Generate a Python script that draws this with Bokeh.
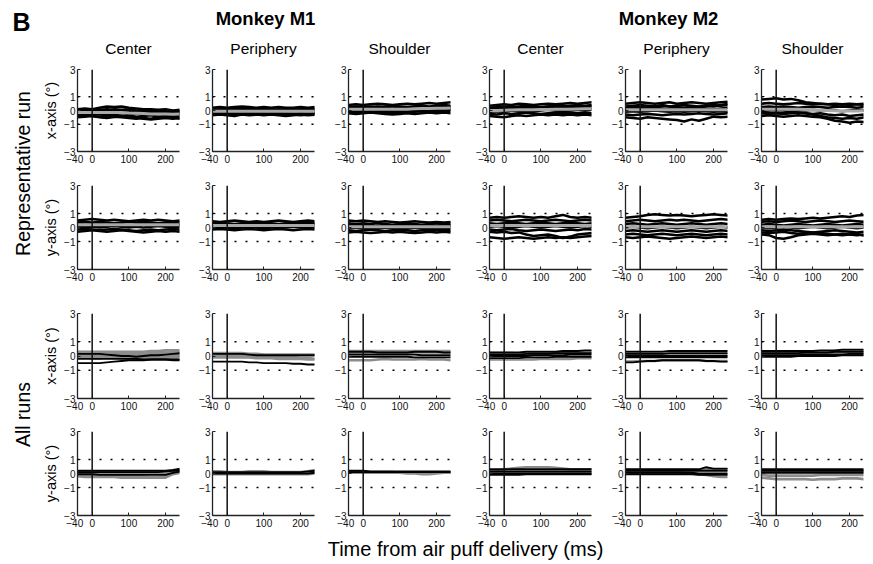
import math
from bokeh.plotting import figure
from bokeh.models import Range1d, FixedTicker, Span
from bokeh.layouts import column, row
from bokeh.embed import file_html
from bokeh.resources import INLINE
from bokeh.core.properties import value

# ---------------- data ----------------
T = [-40, -20, 0, 20, 40, 60, 80, 100, 120, 140, 160, 180, 200, 220, 240]
monkeys = ["Monkey M1", "Monkey M2"]
sites = ["Center", "Periphery", "Shoulder"]
row_groups = ["Representative run", "All runs"]
axis_names = ["x-axis (°)", "y-axis (°)", "x-axis (°)", "y-axis (°)"]
y_ticks = [-3, -1, 0, 1, 3]
y_tick_labels = ["−3", "−1", "0", "1", "3"]
x_ticks = [-40, 0, 100, 200]
x_tick_labels = ["−40\u00a0\u00a0", "0", "100", "200"]
x_label = "Time from air puff delivery (ms)"

# Representative run, x-axis: individual trials + mean
rep_x_m1_center = [
    [0.1, 0.15, 0.1, 0.2, 0.3, 0.25, 0.3, 0.2, 0.15, 0.1, 0.1, 0.05, 0.1, 0.0, 0.05],
    [-0.05, 0.0, -0.05, 0.05, 0.1, 0.05, 0.0, -0.05, -0.1, -0.05, -0.1, -0.1, -0.15, -0.1, -0.1],
    [-0.2, -0.15, -0.2, -0.1, -0.15, -0.2, -0.15, -0.25, -0.2, -0.25, -0.3, -0.25, -0.3, -0.25, -0.3],
    [-0.35, -0.3, -0.25, -0.3, -0.35, -0.3, -0.4, -0.35, -0.45, -0.4, -0.35, -0.45, -0.4, -0.45, -0.4],
    [-0.5, -0.45, -0.4, -0.45, -0.5, -0.45, -0.5, -0.55, -0.6, -0.55, -0.6, -0.5, -0.55, -0.6, -0.55],
    [0.0, -0.1, 0.05, 0.0, -0.05, 0.1, 0.05, 0.1, 0.0, -0.05, 0.0, -0.05, -0.05, -0.1, -0.05],
    [-0.3, -0.35, -0.4, -0.5, -0.55, -0.45, -0.4, -0.45, -0.5, -0.6, -0.65, -0.6, -0.55, -0.5, -0.6],
    [-0.1, -0.2, -0.15, -0.2, -0.25, -0.15, -0.2, -0.1, -0.15, -0.2, -0.15, -0.2, -0.25, -0.3, -0.2],
]
rep_x_m1_center_mean = [-0.15, -0.15, -0.15, -0.15, -0.15, -0.15, -0.15, -0.18, -0.2, -0.22, -0.25, -0.25, -0.25, -0.27, -0.25]

rep_x_m1_periphery = [
    [0.2, 0.25, 0.2, 0.25, 0.3, 0.25, 0.2, 0.25, 0.2, 0.25, 0.2, 0.2, 0.25, 0.2, 0.25],
    [0.05, 0.1, 0.05, 0.1, 0.05, 0.1, 0.15, 0.1, 0.05, 0.1, 0.05, 0.1, 0.05, 0.1, 0.05],
    [-0.1, -0.05, -0.1, -0.05, -0.1, -0.05, -0.1, -0.05, 0.0, -0.05, -0.1, -0.05, -0.1, -0.05, -0.1],
    [-0.2, -0.25, -0.2, -0.15, -0.2, -0.25, -0.2, -0.25, -0.2, -0.15, -0.2, -0.25, -0.2, -0.25, -0.2],
    [-0.35, -0.3, -0.35, -0.4, -0.3, -0.35, -0.3, -0.35, -0.3, -0.35, -0.4, -0.35, -0.3, -0.35, -0.3],
    [0.1, 0.0, 0.15, 0.05, 0.2, 0.1, 0.05, 0.15, 0.1, 0.0, 0.1, 0.05, 0.1, 0.15, 0.1],
    [-0.3, -0.2, -0.25, -0.3, -0.25, -0.15, -0.3, -0.2, -0.25, -0.3, -0.25, -0.3, -0.35, -0.3, -0.25],
]
rep_x_m1_periphery_mean = [-0.05, -0.05, -0.05, -0.05, -0.05, -0.05, -0.05, -0.05, -0.05, -0.05, -0.05, -0.05, -0.05, -0.05, -0.05]

rep_x_m1_shoulder = [
    [0.4, 0.45, 0.4, 0.45, 0.5, 0.45, 0.4, 0.45, 0.5, 0.45, 0.5, 0.55, 0.5, 0.55, 0.6],
    [0.25, 0.3, 0.25, 0.3, 0.25, 0.3, 0.35, 0.3, 0.25, 0.3, 0.35, 0.3, 0.35, 0.4, 0.35],
    [0.1, 0.05, 0.1, 0.15, 0.1, 0.05, 0.1, 0.15, 0.1, 0.15, 0.1, 0.15, 0.2, 0.15, 0.2],
    [-0.05, 0.0, -0.05, -0.1, -0.05, 0.0, -0.05, 0.0, -0.05, 0.0, 0.05, 0.0, 0.05, 0.0, 0.05],
    [-0.2, -0.25, -0.2, -0.15, -0.2, -0.25, -0.3, -0.25, -0.2, -0.25, -0.2, -0.15, -0.2, -0.15, -0.2],
    [0.2, 0.1, 0.15, 0.2, 0.3, 0.2, 0.15, 0.25, 0.2, 0.3, 0.25, 0.2, 0.3, 0.25, 0.3],
    [-0.1, -0.2, -0.15, -0.05, -0.15, -0.1, -0.2, -0.1, -0.15, -0.1, -0.05, -0.1, -0.05, -0.1, 0.0],
]
rep_x_m1_shoulder_mean = [0.1, 0.1, 0.1, 0.1, 0.1, 0.1, 0.1, 0.1, 0.1, 0.12, 0.14, 0.14, 0.16, 0.16, 0.18]

rep_x_m2_center = [
    [0.35, 0.4, 0.45, 0.4, 0.5, 0.45, 0.4, 0.45, 0.5, 0.45, 0.5, 0.55, 0.5, 0.55, 0.6],
    [0.2, 0.25, 0.3, 0.25, 0.3, 0.35, 0.3, 0.25, 0.3, 0.35, 0.3, 0.35, 0.4, 0.35, 0.4],
    [0.05, 0.1, 0.05, 0.15, 0.1, 0.15, 0.1, 0.15, 0.2, 0.15, 0.2, 0.15, 0.2, 0.25, 0.2],
    [-0.1, -0.05, -0.1, 0.0, -0.05, 0.0, -0.05, 0.0, 0.05, 0.0, -0.05, 0.0, 0.05, 0.0, 0.05],
    [-0.25, -0.3, -0.2, -0.25, -0.2, -0.15, -0.2, -0.25, -0.2, -0.15, -0.2, -0.15, -0.2, -0.15, -0.2],
    [-0.4, -0.45, -0.5, -0.4, -0.35, -0.4, -0.35, -0.3, -0.35, -0.3, -0.35, -0.3, -0.35, -0.3, -0.35],
    [0.1, 0.2, 0.15, 0.3, 0.2, 0.25, 0.15, 0.2, 0.3, 0.25, 0.35, 0.3, 0.25, 0.3, 0.35],
]
rep_x_m2_center_mean = [0.0, 0.0, 0.02, 0.04, 0.05, 0.06, 0.06, 0.07, 0.08, 0.09, 0.1, 0.1, 0.11, 0.12, 0.12]

rep_x_m2_periphery = [
    [0.5, 0.55, 0.6, 0.55, 0.5, 0.55, 0.6, 0.5, 0.55, 0.6, 0.55, 0.5, 0.55, 0.6, 0.65],
    [0.3, 0.35, 0.4, 0.35, 0.3, 0.35, 0.3, 0.35, 0.4, 0.35, 0.3, 0.35, 0.4, 0.35, 0.4],
    [0.1, 0.15, 0.1, 0.15, 0.2, 0.15, 0.1, 0.15, 0.1, 0.15, 0.2, 0.15, 0.1, 0.15, 0.2],
    [-0.1, -0.05, -0.1, -0.05, 0.0, -0.05, -0.1, -0.05, -0.1, -0.05, 0.0, -0.05, -0.1, -0.05, -0.1],
    [-0.3, -0.35, -0.3, -0.25, -0.3, -0.35, -0.3, -0.25, -0.3, -0.25, -0.2, -0.25, -0.3, -0.25, -0.2],
    [-0.5, -0.55, -0.6, -0.5, -0.55, -0.6, -0.65, -0.7, -0.8, -0.65, -0.75, -0.6, -0.45, -0.5, -0.45],
    [0.2, 0.3, 0.25, 0.2, 0.3, 0.4, 0.3, 0.25, 0.2, 0.3, 0.25, 0.35, 0.3, 0.4, 0.5],
]
rep_x_m2_periphery_mean = [0.05, 0.05, 0.05, 0.05, 0.05, 0.05, 0.05, 0.05, 0.05, 0.05, 0.05, 0.05, 0.05, 0.05, 0.05]

rep_x_m2_shoulder = [
    [0.8, 0.85, 0.9, 0.8, 0.85, 0.75, 0.6, 0.55, 0.5, 0.45, 0.5, 0.45, 0.5, 0.45, 0.5],
    [0.5, 0.55, 0.5, 0.45, 0.5, 0.55, 0.5, 0.45, 0.5, 0.45, 0.4, 0.45, 0.4, 0.45, 0.4],
    [0.25, 0.3, 0.25, 0.3, 0.25, 0.2, 0.25, 0.3, 0.25, 0.2, 0.25, 0.3, 0.25, 0.2, 0.25],
    [0.0, 0.05, 0.0, 0.05, 0.1, 0.05, 0.0, 0.05, 0.0, 0.05, 0.0, -0.05, 0.0, 0.05, 0.0],
    [-0.2, -0.25, -0.2, -0.25, -0.2, -0.15, -0.2, -0.3, -0.4, -0.5, -0.55, -0.6, -0.55, -0.6, -0.5],
    [-0.4, -0.35, -0.4, -0.45, -0.4, -0.35, -0.4, -0.45, -0.5, -0.6, -0.75, -0.8, -0.9, -0.8, -0.85],
    [-0.1, -0.15, -0.2, -0.15, -0.1, -0.15, -0.2, -0.25, -0.2, -0.3, -0.35, -0.3, -0.4, -0.35, -0.3],
]
rep_x_m2_shoulder_mean = [0.1, 0.1, 0.1, 0.1, 0.1, 0.1, 0.08, 0.05, 0.02, 0.0, -0.02, -0.03, -0.04, -0.03, -0.02]

# Representative run, y-axis
rep_y_m1_center = [
    [0.5, 0.55, 0.6, 0.55, 0.5, 0.55, 0.5, 0.45, 0.5, 0.55, 0.5, 0.55, 0.5, 0.45, 0.5],
    [0.35, 0.4, 0.35, 0.4, 0.35, 0.3, 0.35, 0.4, 0.35, 0.4, 0.35, 0.3, 0.35, 0.4, 0.35],
    [0.2, 0.15, 0.2, 0.25, 0.2, 0.15, 0.2, 0.15, 0.2, 0.25, 0.2, 0.15, 0.2, 0.25, 0.2],
    [0.05, 0.0, 0.05, 0.0, 0.05, 0.1, 0.05, 0.0, 0.05, 0.0, 0.05, 0.1, 0.05, 0.0, 0.05],
    [-0.15, -0.1, -0.15, -0.2, -0.15, -0.1, -0.15, -0.2, -0.25, -0.2, -0.15, -0.2, -0.15, -0.1, -0.15],
    [-0.3, -0.25, -0.2, -0.25, -0.3, -0.25, -0.2, -0.25, -0.3, -0.35, -0.3, -0.25, -0.3, -0.25, -0.3],
    [0.3, 0.2, 0.25, 0.1, 0.2, 0.3, 0.25, 0.1, 0.2, 0.3, 0.25, 0.2, 0.3, 0.1, 0.2],
]
rep_y_m1_center_mean = [0.2, 0.2, 0.2, 0.2, 0.2, 0.2, 0.2, 0.2, 0.2, 0.2, 0.2, 0.2, 0.2, 0.2, 0.2]

rep_y_m1_periphery = [
    [0.45, 0.4, 0.45, 0.5, 0.45, 0.4, 0.45, 0.4, 0.45, 0.5, 0.45, 0.4, 0.45, 0.5, 0.45],
    [0.3, 0.35, 0.3, 0.25, 0.3, 0.35, 0.3, 0.35, 0.3, 0.25, 0.3, 0.35, 0.3, 0.35, 0.3],
    [0.15, 0.1, 0.15, 0.2, 0.15, 0.1, 0.15, 0.2, 0.15, 0.1, 0.15, 0.2, 0.15, 0.1, 0.15],
    [0.0, 0.05, 0.0, -0.05, 0.0, 0.05, 0.0, -0.05, 0.0, 0.05, 0.0, 0.05, 0.0, -0.05, 0.0],
    [-0.15, -0.1, -0.15, -0.2, -0.15, -0.1, -0.15, -0.2, -0.15, -0.1, -0.15, -0.2, -0.15, -0.1, -0.15],
    [0.25, 0.2, 0.1, 0.2, 0.25, 0.15, 0.2, 0.3, 0.2, 0.15, 0.25, 0.2, 0.1, 0.2, 0.25],
]
rep_y_m1_periphery_mean = [0.15, 0.15, 0.15, 0.15, 0.15, 0.15, 0.15, 0.15, 0.15, 0.15, 0.15, 0.15, 0.15, 0.15, 0.15]

rep_y_m1_shoulder = [
    [0.5, 0.45, 0.5, 0.45, 0.4, 0.45, 0.4, 0.35, 0.4, 0.45, 0.4, 0.35, 0.4, 0.35, 0.4],
    [0.3, 0.25, 0.3, 0.25, 0.3, 0.25, 0.2, 0.25, 0.3, 0.25, 0.2, 0.25, 0.3, 0.25, 0.3],
    [0.1, 0.15, 0.1, 0.05, 0.1, 0.15, 0.1, 0.05, 0.1, 0.15, 0.1, 0.05, 0.1, 0.15, 0.1],
    [-0.05, 0.0, -0.05, -0.1, -0.05, 0.0, -0.05, -0.1, -0.05, 0.0, -0.05, -0.1, -0.05, 0.0, -0.05],
    [-0.2, -0.25, -0.2, -0.15, -0.2, -0.25, -0.2, -0.15, -0.2, -0.25, -0.2, -0.15, -0.2, -0.15, -0.2],
    [-0.35, -0.3, -0.35, -0.4, -0.35, -0.3, -0.35, -0.3, -0.35, -0.4, -0.35, -0.3, -0.35, -0.3, -0.35],
    [0.2, 0.1, 0.2, 0.15, 0.05, 0.2, 0.15, 0.1, 0.2, 0.05, 0.15, 0.2, 0.1, 0.2, 0.15],
]
rep_y_m1_shoulder_mean = [0.05, 0.05, 0.05, 0.05, 0.05, 0.05, 0.05, 0.05, 0.05, 0.05, 0.05, 0.05, 0.05, 0.05, 0.05]

rep_y_m2_center = [
    [0.7, 0.75, 0.7, 0.75, 0.8, 0.75, 0.7, 0.75, 0.7, 0.8, 0.9, 0.75, 0.7, 0.75, 0.7],
    [0.5, 0.55, 0.5, 0.45, 0.5, 0.55, 0.5, 0.45, 0.5, 0.55, 0.5, 0.45, 0.5, 0.55, 0.5],
    [0.3, 0.25, 0.3, 0.35, 0.3, 0.25, 0.3, 0.35, 0.3, 0.25, 0.3, 0.35, 0.3, 0.25, 0.3],
    [0.05, 0.1, 0.05, 0.0, 0.05, 0.1, 0.05, 0.0, 0.05, 0.1, 0.05, 0.0, 0.05, 0.1, 0.05],
    [-0.15, -0.2, -0.15, -0.1, -0.2, -0.25, -0.2, -0.15, -0.2, -0.25, -0.2, -0.15, -0.2, -0.1, -0.15],
    [-0.3, -0.35, -0.3, -0.4, -0.35, -0.5, -0.6, -0.55, -0.5, -0.6, -0.75, -0.65, -0.5, -0.45, -0.4],
    [-0.7, -0.75, -0.8, -0.75, -0.7, -0.75, -0.8, -0.75, -0.7, -0.75, -0.7, -0.75, -0.7, -0.65, -0.6],
]
rep_y_m2_center_mean = [0.15, 0.15, 0.15, 0.15, 0.15, 0.15, 0.15, 0.15, 0.15, 0.15, 0.15, 0.15, 0.15, 0.15, 0.15]

rep_y_m2_periphery = [
    [0.7, 0.75, 0.8, 0.9, 0.95, 0.9, 0.85, 0.9, 0.85, 0.8, 0.85, 0.9, 0.95, 0.9, 0.85],
    [0.45, 0.5, 0.55, 0.5, 0.45, 0.5, 0.55, 0.5, 0.55, 0.5, 0.45, 0.5, 0.55, 0.6, 0.55],
    [0.25, 0.3, 0.25, 0.2, 0.25, 0.3, 0.25, 0.2, 0.25, 0.3, 0.25, 0.2, 0.25, 0.3, 0.25],
    [0.0, 0.05, 0.0, -0.05, 0.0, 0.05, 0.0, -0.05, 0.0, 0.05, 0.0, -0.05, 0.0, 0.05, 0.0],
    [-0.25, -0.2, -0.25, -0.3, -0.25, -0.2, -0.25, -0.3, -0.25, -0.2, -0.25, -0.3, -0.25, -0.2, -0.25],
    [-0.5, -0.45, -0.5, -0.55, -0.5, -0.45, -0.5, -0.55, -0.5, -0.45, -0.5, -0.55, -0.5, -0.45, -0.5],
    [-0.7, -0.75, -0.7, -0.65, -0.7, -0.75, -0.8, -0.75, -0.7, -0.65, -0.7, -0.75, -0.7, -0.65, -0.7],
]
rep_y_m2_periphery_mean = [0.05, 0.05, 0.05, 0.05, 0.05, 0.05, 0.05, 0.05, 0.05, 0.05, 0.05, 0.05, 0.05, 0.05, 0.05]

rep_y_m2_shoulder = [
    [0.55, 0.6, 0.55, 0.6, 0.65, 0.6, 0.65, 0.7, 0.65, 0.7, 0.75, 0.8, 0.75, 0.85, 0.9],
    [0.4, 0.45, 0.4, 0.45, 0.5, 0.45, 0.4, 0.45, 0.5, 0.45, 0.4, 0.45, 0.5, 0.45, 0.4],
    [0.2, 0.25, 0.2, 0.15, 0.2, 0.25, 0.2, 0.15, 0.2, 0.25, 0.2, 0.15, 0.2, 0.25, 0.2],
    [0.0, -0.05, 0.0, 0.05, 0.0, -0.05, 0.0, 0.05, 0.0, -0.05, 0.0, 0.05, 0.0, -0.05, 0.0],
    [-0.2, -0.25, -0.2, -0.15, -0.2, -0.25, -0.3, -0.35, -0.3, -0.25, -0.2, -0.25, -0.3, -0.35, -0.3],
    [-0.5, -0.55, -0.75, -0.8, -0.7, -0.55, -0.5, -0.45, -0.5, -0.55, -0.5, -0.45, -0.5, -0.55, -0.5],
    [-0.35, -0.4, -0.35, -0.3, -0.4, -0.45, -0.4, -0.35, -0.4, -0.45, -0.5, -0.55, -0.5, -0.45, -0.6],
]
rep_y_m2_shoulder_mean = [0.05, 0.05, 0.05, 0.05, 0.05, 0.05, 0.05, 0.05, 0.05, 0.05, 0.05, 0.05, 0.05, 0.05, 0.05]

# All runs, x-axis: black run means and gray run means
all_x_m1_center_black = [
    [-0.2, -0.2, -0.2, -0.2, -0.2, -0.2, -0.2, -0.2, -0.2, -0.25, -0.25, -0.25, -0.25, -0.25, -0.25],
    [-0.5, -0.5, -0.5, -0.5, -0.45, -0.4, -0.35, -0.3, -0.3, -0.3, -0.25, -0.25, -0.25, -0.3, -0.3],
    [0.15, 0.15, 0.15, 0.15, 0.1, 0.05, 0.0, 0.0, -0.05, 0.0, 0.05, 0.05, 0.1, 0.15, 0.2],
]
all_x_m1_center_gray = [
    [0.3, 0.3, 0.3, 0.3, 0.3, 0.3, 0.3, 0.3, 0.3, 0.3, 0.35, 0.35, 0.4, 0.4, 0.4],
    [0.2, 0.2, 0.2, 0.2, 0.2, 0.2, 0.2, 0.2, 0.2, 0.15, 0.2, 0.2, 0.25, 0.25, 0.3],
    [0.1, 0.1, 0.1, 0.05, 0.05, 0.1, 0.1, 0.1, 0.05, 0.05, 0.05, 0.1, 0.1, 0.1, 0.1],
    [0.0, 0.0, -0.05, -0.05, 0.0, 0.0, -0.05, -0.05, -0.1, -0.1, -0.05, -0.05, 0.0, 0.0, 0.0],
    [-0.1, -0.1, -0.15, -0.15, -0.1, -0.1, -0.15, -0.15, -0.2, -0.2, -0.2, -0.15, -0.15, -0.1, -0.1],
]
all_x_m1_periphery_black = [
    [0.15, 0.15, 0.15, 0.15, 0.15, 0.1, 0.05, 0.05, 0.05, 0.05, 0.05, 0.05, 0.05, 0.05, 0.05],
    [-0.4, -0.4, -0.4, -0.4, -0.4, -0.45, -0.45, -0.5, -0.5, -0.5, -0.5, -0.55, -0.55, -0.6, -0.6],
]
all_x_m1_periphery_gray = [
    [0.2, 0.2, 0.2, 0.2, 0.2, 0.15, 0.15, 0.1, 0.1, 0.1, 0.1, 0.1, 0.1, 0.1, 0.1],
    [0.1, 0.1, 0.1, 0.1, 0.1, 0.05, 0.05, 0.0, 0.0, 0.0, 0.0, 0.0, 0.05, 0.05, 0.05],
    [0.0, 0.0, 0.0, 0.0, 0.0, -0.05, -0.05, -0.1, -0.1, -0.1, -0.1, -0.15, -0.15, -0.15, -0.2],
    [-0.1, -0.1, -0.1, -0.1, -0.1, -0.1, -0.15, -0.15, -0.15, -0.2, -0.2, -0.2, -0.2, -0.25, -0.25],
]
all_x_m1_shoulder_black = [
    [0.3, 0.3, 0.3, 0.3, 0.25, 0.25, 0.25, 0.25, 0.25, 0.3, 0.3, 0.3, 0.3, 0.25, 0.25],
    [0.1, 0.1, 0.1, 0.1, 0.1, 0.1, 0.1, 0.1, 0.1, 0.1, 0.05, 0.05, 0.05, 0.05, 0.05],
    [-0.05, -0.05, -0.05, -0.05, -0.05, -0.05, -0.05, -0.05, -0.05, -0.1, -0.1, -0.1, -0.1, -0.1, -0.1],
]
all_x_m1_shoulder_gray = [
    [0.35, 0.35, 0.35, 0.35, 0.35, 0.35, 0.35, 0.35, 0.35, 0.35, 0.35, 0.35, 0.35, 0.35, 0.35],
    [0.2, 0.2, 0.2, 0.2, 0.2, 0.2, 0.2, 0.2, 0.2, 0.25, 0.25, 0.25, 0.25, 0.25, 0.25],
    [-0.3, -0.3, -0.3, -0.3, -0.25, -0.2, -0.25, -0.25, -0.25, -0.25, -0.2, -0.25, -0.25, -0.25, -0.3],
]
all_x_m2_center_black = [
    [0.25, 0.25, 0.25, 0.25, 0.25, 0.3, 0.3, 0.3, 0.3, 0.3, 0.35, 0.35, 0.35, 0.4, 0.4],
    [0.1, 0.1, 0.1, 0.1, 0.1, 0.15, 0.15, 0.15, 0.15, 0.2, 0.2, 0.2, 0.2, 0.2, 0.2],
    [0.0, 0.0, 0.0, 0.0, 0.0, 0.0, 0.05, 0.05, 0.05, 0.05, 0.05, 0.1, 0.1, 0.1, 0.1],
    [-0.15, -0.15, -0.15, -0.15, -0.15, -0.1, -0.1, -0.1, -0.1, -0.05, -0.05, -0.05, -0.05, -0.05, -0.05],
]
all_x_m2_center_gray = [
    [-0.25, -0.25, -0.25, -0.25, -0.25, -0.25, -0.25, -0.2, -0.2, -0.2, -0.2, -0.2, -0.15, -0.15, -0.15],
    [0.2, 0.2, 0.2, 0.2, 0.15, 0.15, 0.2, 0.2, 0.2, 0.25, 0.25, 0.25, 0.3, 0.3, 0.3],
]
all_x_m2_periphery_black = [
    [0.3, 0.3, 0.3, 0.3, 0.3, 0.3, 0.35, 0.35, 0.35, 0.35, 0.35, 0.35, 0.35, 0.35, 0.35],
    [0.15, 0.15, 0.15, 0.15, 0.15, 0.15, 0.2, 0.2, 0.2, 0.2, 0.2, 0.2, 0.2, 0.2, 0.2],
    [0.0, 0.0, 0.0, 0.0, 0.0, 0.0, 0.0, 0.0, 0.0, 0.0, 0.0, 0.0, 0.0, 0.0, 0.0],
    [-0.1, -0.1, -0.1, -0.1, -0.1, -0.1, -0.1, -0.1, -0.1, -0.1, -0.1, -0.1, -0.1, -0.1, -0.1],
    [-0.45, -0.45, -0.4, -0.35, -0.35, -0.3, -0.3, -0.3, -0.3, -0.3, -0.3, -0.35, -0.35, -0.4, -0.4],
]
all_x_m2_periphery_gray = [
    [0.1, 0.1, 0.1, 0.1, 0.1, 0.1, 0.1, 0.1, 0.1, 0.1, 0.1, 0.1, 0.1, 0.1, 0.1],
    [-0.4, -0.4, -0.35, -0.35, -0.35, -0.3, -0.3, -0.3, -0.3, -0.3, -0.3, -0.35, -0.35, -0.35, -0.35],
]
all_x_m2_shoulder_black = [
    [0.35, 0.35, 0.35, 0.35, 0.35, 0.35, 0.35, 0.35, 0.4, 0.4, 0.4, 0.45, 0.45, 0.45, 0.45],
    [0.2, 0.2, 0.2, 0.2, 0.2, 0.2, 0.25, 0.25, 0.25, 0.25, 0.3, 0.3, 0.3, 0.3, 0.3],
    [0.05, 0.05, 0.05, 0.05, 0.05, 0.05, 0.1, 0.1, 0.1, 0.1, 0.1, 0.1, 0.15, 0.15, 0.15],
    [-0.05, -0.05, -0.05, -0.05, -0.05, 0.0, 0.0, 0.0, 0.0, 0.0, 0.0, 0.05, 0.05, 0.05, 0.05],
]
all_x_m2_shoulder_gray = [
    [0.3, 0.3, 0.25, 0.25, 0.25, 0.25, 0.3, 0.3, 0.3, 0.3, 0.35, 0.35, 0.35, 0.35, 0.35],
    [0.1, 0.1, 0.1, 0.1, 0.15, 0.15, 0.15, 0.15, 0.15, 0.2, 0.2, 0.2, 0.2, 0.2, 0.2],
]

# All runs, y-axis
all_y_m1_center_black = [
    [0.2, 0.2, 0.2, 0.2, 0.2, 0.2, 0.2, 0.2, 0.2, 0.2, 0.2, 0.2, 0.2, 0.25, 0.35],
    [0.1, 0.1, 0.1, 0.1, 0.1, 0.1, 0.1, 0.1, 0.1, 0.1, 0.1, 0.1, 0.15, 0.2, 0.25],
    [-0.05, -0.05, -0.05, -0.1, -0.1, -0.1, -0.1, -0.1, -0.1, -0.1, -0.1, -0.1, -0.1, 0.05, 0.15],
]
all_y_m1_center_gray = [
    [-0.2, -0.25, -0.25, -0.25, -0.25, -0.25, -0.3, -0.3, -0.3, -0.3, -0.3, -0.3, -0.3, -0.05, 0.05],
    [-0.1, -0.15, -0.15, -0.15, -0.2, -0.2, -0.2, -0.2, -0.2, -0.2, -0.25, -0.25, -0.2, 0.0, 0.1],
    [0.0, 0.0, 0.0, 0.0, 0.0, 0.0, 0.0, 0.0, 0.05, 0.0, 0.0, 0.0, 0.05, 0.1, 0.2],
]
all_y_m1_periphery_black = [
    [0.1, 0.1, 0.1, 0.1, 0.1, 0.1, 0.1, 0.1, 0.1, 0.1, 0.1, 0.1, 0.1, 0.15, 0.2],
    [0.0, 0.0, 0.0, 0.0, 0.0, 0.0, 0.0, 0.0, 0.0, 0.0, 0.0, 0.0, 0.0, 0.0, 0.05],
]
all_y_m1_periphery_gray = [
    [0.15, 0.15, 0.1, 0.1, 0.1, 0.15, 0.15, 0.15, 0.1, 0.1, 0.1, 0.1, 0.1, 0.15, 0.25],
    [0.05, 0.05, 0.05, 0.05, 0.05, 0.05, 0.05, 0.05, 0.05, 0.05, 0.05, 0.05, 0.05, 0.1, 0.15],
    [-0.05, -0.05, -0.05, -0.05, -0.05, -0.05, -0.05, -0.05, -0.05, -0.05, -0.05, -0.05, -0.05, -0.05, 0.0],
]
all_y_m1_shoulder_black = [
    [0.2, 0.2, 0.2, 0.15, 0.15, 0.15, 0.15, 0.15, 0.15, 0.15, 0.15, 0.15, 0.15, 0.15, 0.15],
    [0.1, 0.1, 0.1, 0.1, 0.1, 0.1, 0.1, 0.1, 0.1, 0.1, 0.1, 0.1, 0.1, 0.1, 0.1],
]
all_y_m1_shoulder_gray = [
    [0.15, 0.15, 0.1, 0.1, 0.1, 0.1, 0.1, 0.05, 0.0, 0.0, -0.05, -0.05, 0.0, 0.05, 0.05],
    [0.05, 0.05, 0.05, 0.05, 0.05, 0.05, 0.05, 0.05, 0.05, 0.05, 0.05, 0.05, 0.05, 0.05, 0.05],
]
all_y_m2_center_black = [
    [0.3, 0.3, 0.3, 0.3, 0.3, 0.3, 0.3, 0.3, 0.3, 0.3, 0.3, 0.3, 0.3, 0.3, 0.3],
    [0.15, 0.15, 0.15, 0.15, 0.15, 0.15, 0.15, 0.15, 0.15, 0.15, 0.15, 0.15, 0.15, 0.15, 0.15],
    [0.0, 0.0, 0.0, 0.0, 0.0, 0.0, 0.0, 0.0, 0.0, 0.0, 0.0, 0.0, 0.0, 0.0, 0.0],
    [-0.1, -0.1, -0.1, -0.1, -0.1, -0.05, -0.05, -0.05, -0.05, -0.05, -0.05, -0.05, -0.05, -0.05, -0.05],
]
all_y_m2_center_gray = [
    [0.2, 0.2, 0.3, 0.35, 0.4, 0.45, 0.45, 0.45, 0.45, 0.4, 0.35, 0.3, 0.3, 0.3, 0.3],
    [0.1, 0.1, 0.1, 0.1, 0.1, 0.1, 0.1, 0.1, 0.1, 0.1, 0.1, 0.1, 0.1, 0.1, 0.1],
]
all_y_m2_periphery_black = [
    [0.3, 0.3, 0.3, 0.3, 0.3, 0.3, 0.3, 0.3, 0.3, 0.3, 0.3, 0.45, 0.35, 0.35, 0.35],
    [0.2, 0.2, 0.2, 0.2, 0.2, 0.2, 0.2, 0.2, 0.2, 0.2, 0.2, 0.2, 0.2, 0.2, 0.2],
    [0.05, 0.05, 0.05, 0.05, 0.05, 0.05, 0.05, 0.05, 0.05, 0.05, 0.0, 0.0, 0.0, 0.0, 0.0],
    [-0.05, -0.05, -0.05, -0.05, -0.05, -0.05, -0.05, -0.05, -0.05, -0.05, -0.1, -0.1, -0.1, -0.1, -0.1],
]
all_y_m2_periphery_gray = [
    [0.1, 0.1, 0.1, 0.1, 0.1, 0.1, 0.1, 0.1, 0.05, 0.0, -0.05, -0.1, -0.2, -0.25, -0.25],
    [0.25, 0.25, 0.25, 0.25, 0.25, 0.25, 0.25, 0.25, 0.25, 0.25, 0.25, 0.3, 0.3, 0.3, 0.3],
]
all_y_m2_shoulder_black = [
    [0.3, 0.3, 0.3, 0.3, 0.3, 0.3, 0.3, 0.3, 0.3, 0.3, 0.3, 0.3, 0.3, 0.3, 0.3],
    [0.2, 0.2, 0.2, 0.2, 0.2, 0.2, 0.2, 0.2, 0.2, 0.2, 0.2, 0.2, 0.2, 0.2, 0.2],
    [0.05, 0.05, 0.05, 0.05, 0.05, 0.05, 0.05, 0.05, 0.05, 0.05, 0.05, 0.05, 0.05, 0.05, 0.05],
]
all_y_m2_shoulder_gray = [
    [-0.3, -0.35, -0.4, -0.4, -0.4, -0.4, -0.4, -0.45, -0.4, -0.4, -0.4, -0.35, -0.35, -0.35, -0.4],
    [-0.1, -0.15, -0.15, -0.15, -0.15, -0.15, -0.15, -0.15, -0.1, -0.1, -0.1, -0.1, -0.1, -0.1, -0.1],
    [0.15, 0.15, 0.15, 0.15, 0.15, 0.15, 0.15, 0.15, 0.15, 0.15, 0.15, 0.15, 0.15, 0.15, 0.15],
]

rep_rows = [
    [(rep_x_m1_center, rep_x_m1_center_mean), (rep_x_m1_periphery, rep_x_m1_periphery_mean),
     (rep_x_m1_shoulder, rep_x_m1_shoulder_mean), (rep_x_m2_center, rep_x_m2_center_mean),
     (rep_x_m2_periphery, rep_x_m2_periphery_mean), (rep_x_m2_shoulder, rep_x_m2_shoulder_mean)],
    [(rep_y_m1_center, rep_y_m1_center_mean), (rep_y_m1_periphery, rep_y_m1_periphery_mean),
     (rep_y_m1_shoulder, rep_y_m1_shoulder_mean), (rep_y_m2_center, rep_y_m2_center_mean),
     (rep_y_m2_periphery, rep_y_m2_periphery_mean), (rep_y_m2_shoulder, rep_y_m2_shoulder_mean)],
]
all_rows = [
    [(all_x_m1_center_black, all_x_m1_center_gray), (all_x_m1_periphery_black, all_x_m1_periphery_gray),
     (all_x_m1_shoulder_black, all_x_m1_shoulder_gray), (all_x_m2_center_black, all_x_m2_center_gray),
     (all_x_m2_periphery_black, all_x_m2_periphery_gray), (all_x_m2_shoulder_black, all_x_m2_shoulder_gray)],
    [(all_y_m1_center_black, all_y_m1_center_gray), (all_y_m1_periphery_black, all_y_m1_periphery_gray),
     (all_y_m1_shoulder_black, all_y_m1_shoulder_gray), (all_y_m2_center_black, all_y_m2_center_gray),
     (all_y_m2_periphery_black, all_y_m2_periphery_gray), (all_y_m2_shoulder_black, all_y_m2_shoulder_gray)],
]

# ---------------- layout (screen px of the window) ----------------
OFF = 0
COL_X = [77, 212, 348, 489, 625, 761]
FRAME_W = 102
ROW_Y = [69, 185, 313, 431]
FRAME_H = [82, 84, 85, 84]
LB, TB = 17, 6
RIGHT = 866
BOTTOM_PANELS = 531
BOTTOM = 562
FONT = value("Liberation Sans")
TICK_FONT = "Liberation Sans"


def blank(w, h, x0, x1, ytop, ybot):
    f = figure(width=w, height=h, x_range=Range1d(x0, x1), y_range=Range1d(ybot, ytop),
               x_axis_location=None, y_axis_location=None, toolbar_location=None,
               output_backend="svg", min_border=0, outline_line_color=None)
    f.grid.visible = False
    return f


def panel(r, c):
    w = (COL_X[c + 1] - COL_X[c]) if c < 5 else RIGHT - (COL_X[5] - LB)
    if r < 3:
        h = ROW_Y[r + 1] - ROW_Y[r]
    else:
        h = BOTTOM_PANELS - (ROW_Y[3] - TB)
    bb = h - TB - FRAME_H[r]
    p = figure(width=w, height=h, x_range=Range1d(-40, 238), y_range=Range1d(-3, 3),
               toolbar_location=None, output_backend="svg",
               min_border_left=LB, min_border_right=w - FRAME_W - LB,
               min_border_top=TB, min_border_bottom=bb, outline_line_color=None)
    p.grid.visible = False
    p.xaxis.ticker = FixedTicker(ticks=x_ticks)
    p.yaxis.ticker = FixedTicker(ticks=y_ticks)
    p.xaxis.major_label_overrides = dict(zip(x_ticks, x_tick_labels))
    p.yaxis.major_label_overrides = dict(zip(y_ticks, y_tick_labels))
    for ax in (p.xaxis[0], p.yaxis[0]):
        ax.major_tick_in = 3
        ax.major_tick_out = 0
        ax.minor_tick_line_color = None
        ax.major_label_standoff = 2
        ax.major_label_text_font = TICK_FONT
        ax.major_label_text_font_size = "10px"
        ax.major_label_text_color = "#111111"
        ax.axis_line_color = "#222222"
        ax.axis_line_width = 1.3
        ax.major_tick_line_color = "#222222"
    if r < 2:
        traces, mean = rep_rows[r][c]
        for tr in traces:
            p.line(T, tr, line_color="black", line_width=2.5)
        p.line(T, mean, line_color="#a8a8a8", line_width=3)
    else:
        black, gray = all_rows[r - 2][c]
        for tr in gray:
            p.line(T, tr, line_color="#8c8c8c", line_width=2.6)
        for tr in black:
            p.line(T, tr, line_color="black", line_width=1.9)
    for yv in (1, -1):
        p.add_layout(Span(location=yv, dimension="width", line_color="black",
                          line_width=1.5, line_dash="2 9"))
    p.add_layout(Span(location=0, dimension="height", line_color="#111111", line_width=1.5))
    return p


# header
header = blank(RIGHT - OFF, ROW_Y[0] - TB - OFF, OFF, RIGHT, OFF, ROW_Y[0] - TB)
header.text(x=[12], y=[21], text=["B"], text_font=FONT, text_font_style="bold",
            text_font_size="25px", text_align="left", text_baseline="middle", text_color="black")
header.text(x=[265, 668], y=[17.5, 17.5], text=monkeys, text_font=FONT, text_font_style="bold",
            text_font_size="18.5px", text_align="center", text_baseline="middle", text_color="black")
title_x = [cx + FRAME_W / 2 for cx in COL_X]
header.text(x=title_x, y=[47.5] * 6, text=sites + sites, text_font=FONT,
            text_font_size="15.5px", text_align="center", text_baseline="middle", text_color="black")

# left labels
left = blank(COL_X[0] - LB - OFF, BOTTOM_PANELS - (ROW_Y[0] - TB), OFF, COL_X[0] - LB,
             ROW_Y[0] - TB, BOTTOM_PANELS)
left.text(x=[22, 22], y=[173, (ROW_Y[2] + ROW_Y[3] + FRAME_H[3]) / 2],
          text=row_groups, angle=math.pi / 2, text_font=FONT, text_font_size="19.5px",
          text_align="center", text_baseline="middle", text_color="black")
left.text(x=[50.5] * 4, y=[ROW_Y[i] + FRAME_H[i] / 2 for i in range(4)], text=axis_names,
          angle=math.pi / 2, text_font=FONT, text_font_size="14.5px",
          text_align="center", text_baseline="middle", text_color="black")

# footer
footer = blank(RIGHT - OFF, BOTTOM - BOTTOM_PANELS, OFF, RIGHT, BOTTOM_PANELS, BOTTOM)
footer.text(x=[465], y=[548], text=[x_label], text_font=FONT, text_font_size="20px",
            text_align="center", text_baseline="middle", text_color="black")

panel_rows = [row(*[panel(r, c) for c in range(6)], spacing=0) for r in range(4)]
grid = column(*panel_rows, spacing=0)
layout = column(header, row(left, grid, spacing=0), footer, spacing=0)

open("out.html", "w").write(file_html(layout, INLINE))
